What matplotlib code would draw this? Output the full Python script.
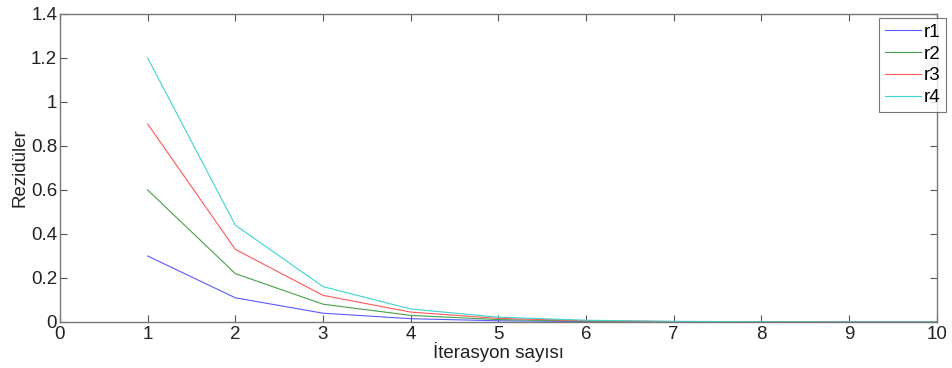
import numpy as np
import matplotlib
matplotlib.use('Agg')
import matplotlib.pyplot as plt

plt.rcParams['font.family'] = ['Liberation Sans', 'DejaVu Sans']

iterasyon = [1, 2, 3, 4, 5, 6, 7, 8, 9, 10]
r1 = [0.30, 0.11, 0.040, 0.015, 0.0055, 0.0020, 0.0007, 0.0003, 0.0001, 0.00004]
r2 = [0.60, 0.22, 0.081, 0.030, 0.0110, 0.0040, 0.0015, 0.0005, 0.0002, 0.00008]
r3 = [0.90, 0.33, 0.121, 0.045, 0.0165, 0.0060, 0.0022, 0.0008, 0.0003, 0.00011]
r4 = [1.20, 0.44, 0.161, 0.059, 0.0220, 0.0080, 0.0030, 0.0011, 0.0004, 0.00015]

series = [('r1', r1, '#5a5aff'), ('r2', r2, '#4aa04a'),
          ('r3', r3, '#ff5a5a'), ('r4', r4, '#40d4d4')]

fig = plt.figure(figsize=(9.52, 3.68), dpi=100)
ax = fig.add_axes([0.063, 0.125, 0.921, 0.837])

for name, vals, col in series:
    ax.plot(iterasyon, vals, color=col, lw=0.8, label=name)

ax.set_xlim(0, 10)
ax.set_ylim(0, 1.4)
ax.set_xticks(range(0, 11))
ax.set_yticks([0, 0.2, 0.4, 0.6, 0.8, 1, 1.2, 1.4])
ax.set_yticklabels(['0', '0.2', '0.4', '0.6', '0.8', '1', '1.2', '1.4'])
ax.tick_params(direction='in', top=True, right=True, length=5, width=0.8,
               color='#555555', labelsize=13.5, labelcolor='#222222')
ax.tick_params(axis='x', pad=3)
ax.tick_params(axis='y', pad=2)
for s in ax.spines.values():
    s.set_color('#777777')
    s.set_linewidth(1)

ax.set_xlabel('İterasyon sayısı', fontsize=13.5, labelpad=-1, color='#222222')
ax.set_ylabel('Rezidüler', fontsize=13.5, labelpad=2, color='#222222')

leg = ax.legend(loc='upper right', bbox_to_anchor=(0.9935, 0.951),
                bbox_transform=fig.transFigure, fontsize=13.5, frameon=True,
                fancybox=False, handlelength=1.9, handletextpad=0.15,
                borderpad=0.3, labelspacing=0.25, borderaxespad=0)
leg.get_frame().set_edgecolor('#555555')
leg.get_frame().set_linewidth(0.8)

fig.savefig('out.png', dpi=100)
